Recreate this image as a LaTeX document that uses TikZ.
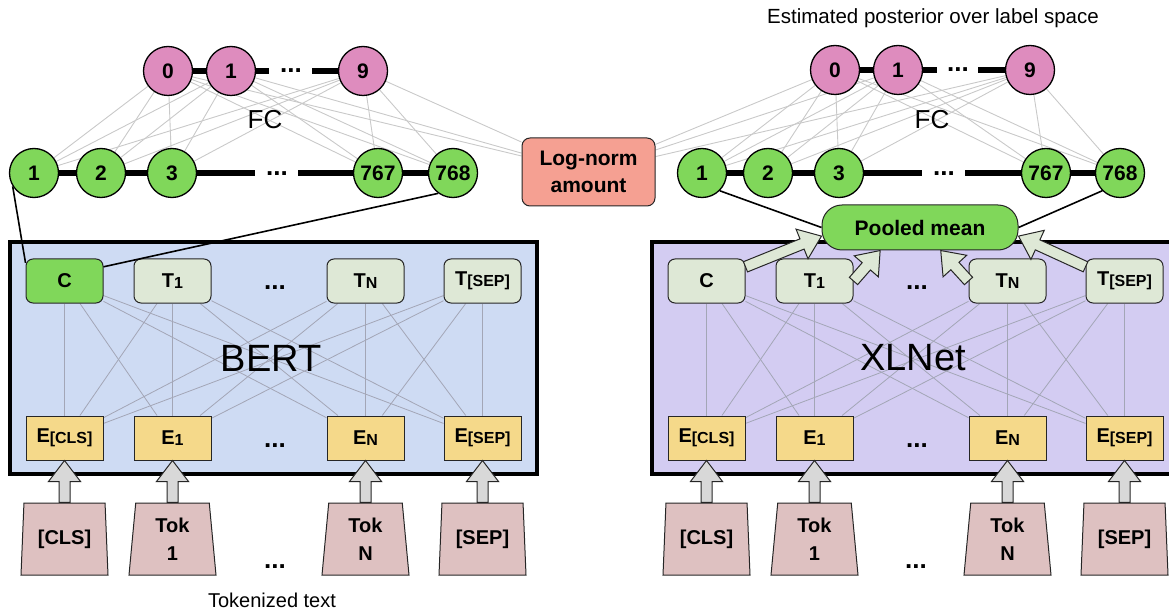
\documentclass[tikz,border=0pt]{standalone}
\usepackage{fontspec}
\setmainfont{Liberation Sans}
\usetikzlibrary{shapes.geometric,calc}
\pgfdeclarelayer{back}
\pgfdeclarelayer{mid}
\pgfsetlayers{back,mid,main}

\definecolor{pinkn}{HTML}{DE8CBE}
\definecolor{greenn}{HTML}{80D75A}
\definecolor{tnode}{HTML}{DEE8D6}
\definecolor{enode}{HTML}{F5D98A}
\definecolor{bertbg}{HTML}{CEDBF3}
\definecolor{xlbg}{HTML}{D3CCF2}
\definecolor{tokc}{HTML}{DEC1C1}
\definecolor{lognc}{HTML}{F5A092}
\definecolor{arrowg}{HTML}{D8D8D8}
\definecolor{fcline}{HTML}{C9C9C9}
\definecolor{inline}{HTML}{A3A6B6}

% small lowered index text inside the token boxes
\newcommand\sbx[1]{\raisebox{-1pt}{\fontsize{16}{18}\selectfont #1}}

% wide block arrow from #2 to #3, drawn with style #1
\newcommand\blkarrow[3]{%
  \path[#1] let \p1=($(#3)-(#2)$), \n1={atan2(\y1,\x1)}, \n2={veclen(\x1,\y1)} in
    [shift={(#2)}, rotate=\n1]
    (0,-5.5) -- (\n2-21,-5.5) -- (\n2-21,-16) -- (\n2,0) -- (\n2-21,16) -- (\n2-21,5.5) -- (0,5.5) -- cycle;}

\tikzset{
  unit/.style={circle, draw=black, line width=1.3pt, minimum size=49pt, inner sep=0pt,
    font=\fontsize{21}{25}\selectfont\bfseries},
  outn/.style={unit, fill=pinkn},
  hidn/.style={unit, fill=greenn},
  dots/.style={inner sep=0pt, font=\fontsize{26}{28}\selectfont\bfseries},
  chain/.style={line width=6pt, black},
  fcl/.style={draw=fcline, line width=0.9pt},
  inl/.style={draw=inline, line width=0.8pt},
  tbox/.style={rectangle, rounded corners=7pt, draw=black!85, line width=1pt,
    minimum width=77pt, minimum height=44pt, inner sep=0pt, fill=tnode,
    font=\fontsize{20}{24}\selectfont\bfseries},
  ebox/.style={rectangle, draw=black!85, line width=1pt, minimum width=77pt,
    minimum height=44pt, inner sep=0pt, fill=enode, font=\fontsize{20}{24}\selectfont\bfseries},
  model/.style={rectangle, draw=black, line width=4pt, inner sep=0pt},
  tokn/.style={trapezium, trapezium left angle=81, trapezium right angle=81,
    trapezium stretches body, minimum width=87pt, minimum height=72pt, inner sep=0pt,
    draw=black!85, line width=1pt, fill=tokc, align=center,
    font=\fontsize{20}{28}\selectfont\bfseries},
  link/.style={draw=black, line width=1.6pt},
  grayarr/.style={draw=black!85, line width=1pt, fill=arrowg},
  greenarr/.style={draw=black!85, line width=1pt, fill=tnode},
  plain/.style={inner sep=0pt},
}

\begin{document}
\begin{tikzpicture}[x=1pt,y=-1pt]
\useasboundingbox (0,0) rectangle (1169,612);

% ---------------- BERT branch ----------------
\node[outn] (lp0) at (168,71) {0};
\node[outn] (lp1) at (231,71) {1};
\node[outn] (lp9) at (363,71) {9};
\node[dots] (lpd) at (291,71) {...};
\coordinate (lpa) at (269,71);
\coordinate (lpb) at (312,71);

\node[hidn] (lg1) at (34,173) {1};
\node[hidn] (lg2) at (101,173) {2};
\node[hidn] (lg3) at (172,173) {3};
\node[hidn] (lg767) at (378,173) {767};
\node[hidn] (lg768) at (453,173) {768};
\node[dots] (lgd) at (277,174) {...};
\coordinate (lga) at (255,173);
\coordinate (lgb) at (298,173);

\node[plain, font=\fontsize{26}{30}\selectfont] (lfc) at (265,120) {FC};

\node[rectangle, rounded corners=8pt, draw=black!85, line width=1pt, fill=lognc,
  minimum width=133pt, minimum height=68pt, inner sep=0pt, align=center,
  font=\fontsize{21}{27}\selectfont\bfseries] (logn) at (588.5,172) {Log-norm\\amount};

\node[tbox, fill=greenn] (lc) at (64.5,281) {C};
\node[tbox] (lt1) at (172.5,281) {T\sbx{1}};
\node[tbox] (ltn) at (365.5,281) {T\sbx{N}};
\node[tbox] (lts) at (482.5,281) {T\sbx{[SEP]}};
\node[dots] (ltd) at (275,288) {...};

\node[ebox] (le0) at (64.5,438) {E\sbx{[CLS]}};
\node[ebox] (le1) at (172.5,438) {E\sbx{1}};
\node[ebox] (len) at (365.5,438) {E\sbx{N}};
\node[ebox] (les) at (482.5,438) {E\sbx{[SEP]}};
\node[dots] (led) at (275,446) {...};

\node[plain, font=\fontsize{38}{44}\selectfont] (bertlbl) at (271,358) {BERT};

\node[tokn] (lk0) at (64.5,539) {[CLS]};
\node[tokn] (lk1) at (172.5,539) {Tok\\1};
\node[tokn] (lkn) at (365.5,539) {Tok\\N};
\node[tokn] (lks) at (482.5,539) {[SEP]};
\node[dots] (lkd) at (275,567) {...};

\node[plain, font=\fontsize{20}{24}\selectfont] (toktxt) at (272,600) {Tokenized text};

% ---------------- XLNet branch ----------------
\node[plain, font=\fontsize{20.5}{24}\selectfont] (posttxt) at (933,18) {Estimated posterior over label space};

\node[outn] (rp0) at (835,70) {0};
\node[outn] (rp1) at (898,70) {1};
\node[outn] (rp9) at (1030,70) {9};
\node[dots] (rpd) at (958,70) {...};
\coordinate (rpa) at (937,70);
\coordinate (rpb) at (978,70);

\node[hidn] (rg1) at (702,173) {1};
\node[hidn] (rg2) at (768,173) {2};
\node[hidn] (rg3) at (839,173) {3};
\node[hidn] (rg767) at (1046,173) {767};
\node[hidn] (rg768) at (1120,173) {768};
\node[dots] (rgd) at (944,174) {...};
\coordinate (rga) at (922,173);
\coordinate (rgb) at (965,173);

\node[plain, font=\fontsize{26}{30}\selectfont] (rfc) at (932,120) {FC};

\node[rectangle, rounded corners=20pt, draw=black!85, line width=1pt, fill=greenn,
  minimum width=196pt, minimum height=45pt, inner sep=0pt,
  font=\fontsize{21}{25}\selectfont\bfseries] (pm) at (920,227.5) {Pooled mean};

\node[tbox] (rc) at (706.5,281) {C};
\node[tbox] (rt1) at (814.5,281) {T\sbx{1}};
\node[tbox] (rtn) at (1007.5,281) {T\sbx{N}};
\node[tbox] (rts) at (1124.5,281) {T\sbx{[SEP]}};
\node[dots] (rtd) at (917,288) {...};

\node[ebox] (re0) at (706.5,438) {E\sbx{[CLS]}};
\node[ebox] (re1) at (814.5,438) {E\sbx{1}};
\node[ebox] (ren) at (1007.5,438) {E\sbx{N}};
\node[ebox] (res) at (1124.5,438) {E\sbx{[SEP]}};
\node[dots] (red) at (917,446) {...};

\node[plain, font=\fontsize{38}{44}\selectfont] (xllbl) at (913,358) {XLNet};

\node[tokn] (rk0) at (706.5,539) {[CLS]};
\node[tokn] (rk1) at (814.5,539) {Tok\\1};
\node[tokn] (rkn) at (1007.5,539) {Tok\\N};
\node[tokn] (rks) at (1124.5,539) {[SEP]};
\node[dots] (rkd) at (916,567) {...};

% ---------------- encoder boxes ----------------
\begin{pgfonlayer}{back}
  \node[model, fill=bertbg, minimum width=527pt, minimum height=232pt] (bert) at (273.5,358) {};
  \node[model, fill=xlbg, minimum width=528pt, minimum height=232pt] (xlnet) at (916,358) {};
\end{pgfonlayer}

% ---------------- wiring behind the nodes ----------------
\begin{pgfonlayer}{mid}
  \foreach \a in {lp0,lp1,lp9}
    \foreach \b in {lg1,lg2,lg3,lg767,lg768,logn}
      \draw[fcl] (\a) -- (\b);
  \foreach \a in {rp0,rp1,rp9}
    \foreach \b in {rg1,rg2,rg3,rg767,rg768,logn}
      \draw[fcl] (\a) -- (\b);

  \foreach \a in {lc,lt1,ltn,lts}
    \foreach \b in {le0,le1,len,les}
      \draw[inl] (\a) -- (\b);
  \foreach \a in {rc,rt1,rtn,rts}
    \foreach \b in {re0,re1,ren,res}
      \draw[inl] (\a) -- (\b);

  \draw[chain] (lp0.center) -- (lp1.center) -- (lpa);
  \draw[chain] (lpb) -- (lp9.center);
  \draw[chain] (lg1.center) -- (lg2.center) -- (lg3.center) -- (lga);
  \draw[chain] (lgb) -- (lg767.center) -- (lg768.center);
  \draw[chain] (rp0.center) -- (rp1.center) -- (rpa);
  \draw[chain] (rpb) -- (rp9.center);
  \draw[chain] (rg1.center) -- (rg2.center) -- (rg3.center) -- (rga);
  \draw[chain] (rgb) -- (rg767.center) -- (rg768.center);
\end{pgfonlayer}

% ---------------- pooling links ----------------
\draw[link] (lg1.212) -- (lc.155);
\draw[link] (lg768.-126) -- (lc.20);
\draw[link] (rg1.-45) -- (pm.west);
\draw[link] (rg768.-135) -- (pm.east);

\blkarrow{greenarr}{rc.20}{pm.185}
\blkarrow{greenarr}{rt1.east}{pm.-150}
\blkarrow{greenarr}{rtn.west}{pm.-48}
\blkarrow{greenarr}{rts.160}{pm.-5}

% ---------------- token inputs ----------------
\foreach \k/\e in {lk0/le0,lk1/le1,lkn/len,lks/les,rk0/re0,rk1/re1,rkn/ren,rks/res}
  \blkarrow{grayarr}{\k.north}{\e.south};

\end{tikzpicture}
\end{document}
